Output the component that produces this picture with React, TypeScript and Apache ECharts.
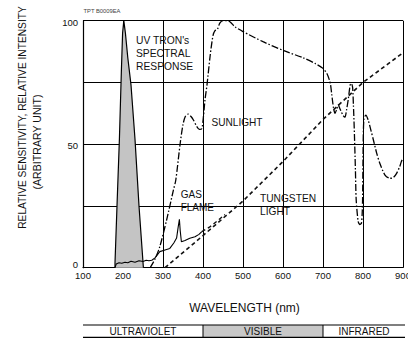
import React, { useEffect, useRef } from "react";
import * as echarts from "echarts";

const FONT = "'Liberation Sans', Arial, Helvetica, sans-serif";

const xMin = 100;
const xMax = 900;
const xStep = 100;
const yMin = 0;
const yMax = 100;
const yStep = 25;
const yLabelValues = [0, 50, 100];

// UV TRON's spectral response
const uvTron: [number, number][] = [
  [180, 0], [180, 2], [185, 25], [191, 52], [196, 80], [199, 95], [202, 100],
  [206, 95], [212, 85], [220, 74], [230, 52], [240, 25], [251, 0],
];

// Sunlight (dash-dot)
const sunlight: [number, number][] = [
  [268, 0], [280, 3.5], [292, 8.5], [309, 19.3], [326, 31.4], [332, 35.5], [343, 50.4],
  [350, 58], [356, 61.3], [363, 62.2], [370, 61.2], [376, 59.8], [385, 57], [391, 56],
  [397, 56.3], [401, 61], [405, 68], [410, 74], [418, 86], [425, 94], [430, 96],
  [436, 96.5], [442, 99], [450, 100], [463, 100], [480, 97.5], [500, 95.6], [550, 91.5],
  [600, 88], [650, 85], [680, 82.7], [700, 80.7], [710, 78.5], [716, 76], [719, 74],
  [722, 70], [726, 65], [730, 62.5], [734, 64], [738, 66], [742, 64.5], [746, 63],
  [751, 61.5], [755, 61], [759, 64], [763, 68], [768, 74], [771, 74.6], [774, 73],
  [776, 66], [778, 57], [781, 40], [783, 27.4], [788, 18.6], [792, 17.5], [796, 18],
  [798, 22], [799, 28], [800, 43.6], [802, 59.8], [807, 61.8], [813, 59.8], [820, 55.5],
  [826, 51.7], [834, 46.5], [842, 42.3], [855, 37.5], [867, 36.2], [876, 36.5],
  [884, 38.2], [892, 41], [896, 43], [900, 44.3],
];

// Gas flame (solid)
const gasFlame: [number, number][] = [
  [180, 0], [183, 1.5], [190, 2], [197, 1.8], [205, 2.2], [212, 2], [220, 2.6],
  [230, 2.2], [240, 2.8], [250, 2.5], [258, 3], [265, 2.8], [272, 3], [280, 4],
  [292, 6.5], [305, 7.2], [317, 7.8], [327, 10], [334, 12], [338, 16.5], [341, 19.6],
  [343, 15], [346, 10.5], [355, 11], [367, 11.9], [380, 12.5], [390, 13.5], [397, 14.6],
];

// Gas flame continuation (dashed, merging into tungsten)
const gasFlameTail: [number, number][] = [
  [397, 14.6], [417, 16.5], [440, 19.5], [455, 21.5],
];

// Tungsten light (dashed)
const tungsten: [number, number][] = [
  [305, 0], [400, 13], [450, 20], [500, 27], [600, 43], [700, 60], [800, 75], [900, 87],
];

const bandNames = ["ULTRAVIOLET", "VISIBLE", "INFRARED"];
const bandEdges = [100, 400, 700, 905];
const bandFills = ["#ffffff", "#c8c8c8", "#ffffff"];

export default function App() {
  const ref = useRef<HTMLDivElement>(null);

  useEffect(() => {
    document.body.style.margin = "0";
    const chart = echarts.init(ref.current!, null, { renderer: "svg" });
    const lineBase = { type: "line", showSymbol: false, symbol: "none", silent: true, z: 3 };
    chart.setOption({
      animation: false,
      backgroundColor: "#ffffff",
      textStyle: { fontFamily: FONT },
      grid: {
        left: 83,
        right: 5,
        top: 20.7,
        bottom: 70.3,
        containLabel: false,
        outerBoundsMode: "none",
      },
      xAxis: {
        type: "value",
        min: xMin,
        max: xMax,
        interval: xStep,
        axisLine: { show: true, lineStyle: { color: "#000", width: 1.2 } },
        axisTick: { show: false },
        axisLabel: { color: "#111", fontSize: 9.5, fontFamily: FONT, margin: 3 },
        splitLine: { show: true, lineStyle: { color: "#000", width: 1 } },
      },
      yAxis: {
        type: "value",
        min: yMin,
        max: yMax,
        interval: yStep,
        axisLine: { show: true, lineStyle: { color: "#000", width: 1.2 } },
        axisTick: { show: false },
        axisLabel: {
          color: "#111",
          fontSize: 9.5,
          fontFamily: FONT,
          margin: 5,
          formatter: (v: number) =>
            yLabelValues.includes(v) ? (v === 0 ? "{low|0}" : `{n|${v}}`) : "",
          rich: {
            low: { fontSize: 9.5, fontFamily: FONT, color: "#111", padding: [0, 0, 7, 0] },
            n: { fontSize: 9.5, fontFamily: FONT, color: "#111", padding: [3, 0, 0, 0] },
          },
        },
        splitLine: { show: true, lineStyle: { color: "#000", width: 1 } },
      },
      series: [
        {
          ...lineBase,
          name: "UV TRON",
          data: uvTron,
          lineStyle: { color: "#000", width: 1.2 },
          areaStyle: { color: "#c4c4c4", opacity: 1 },
          z: 2,
        },
        {
          ...lineBase,
          name: "Tungsten",
          data: tungsten,
          lineStyle: { color: "#111", width: 1.6, type: [4, 3] },
        },
        {
          ...lineBase,
          name: "Gas flame",
          data: gasFlame,
          lineStyle: { color: "#000", width: 1.1 },
        },
        {
          ...lineBase,
          name: "Gas flame tail",
          data: gasFlameTail,
          lineStyle: { color: "#111", width: 1.4, type: [4, 3] },
        },
        {
          ...lineBase,
          name: "Sunlight",
          data: sunlight,
          smooth: 0.25,
          lineStyle: { color: "#000", width: 1.3, type: [7, 2, 1.5, 2] },
        },
      ],
    });

    const px = (v: number) => chart.convertToPixel({ xAxisIndex: 0 }, v) as number;
    const bandTop = 325;
    const bandBottom = 337.3;
    const graphic: any[] = [];
    bandNames.forEach((name, i) => {
      const x0 = px(bandEdges[i]);
      const x1 = px(bandEdges[i + 1]);
      graphic.push({
        type: "rect",
        shape: { x: x0, y: bandTop, width: x1 - x0, height: bandBottom - bandTop },
        style: { fill: bandFills[i], stroke: null },
      });
      graphic.push({
        type: "text",
        x: (x0 + x1) / 2,
        y: (bandTop + bandBottom) / 2 + 0.5,
        style: {
          text: name,
          fill: "#111",
          font: `10px ${FONT}`,
          textAlign: "center",
          textVerticalAlign: "middle",
        },
      });
    });
    const bx0 = px(bandEdges[0]);
    const bx1 = px(bandEdges[bandEdges.length - 1]);
    graphic.push(
      { type: "line", shape: { x1: bx0, y1: bandTop, x2: bx1, y2: bandTop }, style: { stroke: "#000", lineWidth: 1.2 } },
      { type: "line", shape: { x1: bx0, y1: bandBottom, x2: bx1, y2: bandBottom }, style: { stroke: "#000", lineWidth: 1.2 } },
      { type: "line", shape: { x1: px(bandEdges[1]), y1: bandTop, x2: px(bandEdges[1]), y2: bandBottom }, style: { stroke: "#000", lineWidth: 1 } },
      { type: "line", shape: { x1: px(bandEdges[2]), y1: bandTop, x2: px(bandEdges[2]), y2: bandBottom }, style: { stroke: "#000", lineWidth: 1 } }
    );
    const txt = (text: string, x: number, y: number, size: number, extra: any = {}) => ({
      type: "text",
      x,
      y,
      z: 10,
      rotation: extra.rotation || 0,
      style: {
        text,
        fill: extra.fill || "#111",
        font: `${size}px ${FONT}`,
        textAlign: extra.align || "left",
        textVerticalAlign: "middle",
      },
    });
    graphic.push(
      txt("TPT B0009EA", 83.5, 11.2, 5.8, { fill: "#444" }),
      txt("UV TRON's", 136, 40.2, 10.3),
      txt("SPECTRAL", 136, 53.3, 10.3),
      txt("RESPONSE", 136, 66, 10.3),
      txt("SUNLIGHT", 211.5, 122.6, 10.1),
      txt("GAS", 180.7, 194.8, 10),
      txt("FLAME", 180.7, 207.6, 10),
      txt("TUNGSTEN", 260, 198.4, 10.2),
      txt("LIGHT", 260, 211, 10.2),
      txt("WAVELENGTH (nm)", 244.5, 308, 12, { align: "center" }),
      txt("RELATIVE SENSITIVITY, RELATIVE INTENSITY", 22.5, 117.5, 10.2, { align: "center", rotation: Math.PI / 2 }),
      txt("(ARBITRARY UNIT)", 36.5, 142, 10.6, { align: "center", rotation: Math.PI / 2 })
    );
    chart.setOption({ graphic });

    return () => chart.dispose();
  }, []);

  return (
    <div
      ref={ref}
      style={{ position: "fixed", left: 0, top: 0, width: 408, height: 338 }}
    />
  );
}
